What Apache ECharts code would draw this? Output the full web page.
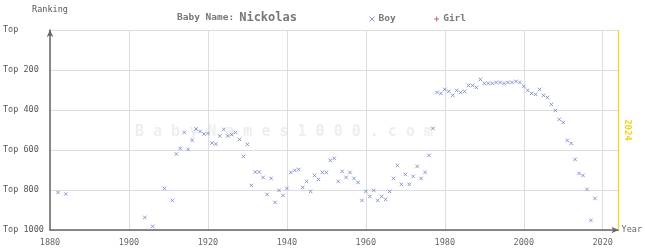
<!DOCTYPE html>
<html><head><meta charset="utf-8">
<script src="https://cdn.jsdelivr.net/npm/echarts@6/dist/echarts.min.js"></script>
<style>html,body{margin:0;padding:0;background:#fff}#c{width:645px;height:250px}</style>
</head><body><div id="c"></div>
<script>
const boyYears = [1882,1884,1904,1906,1909,1911,1912,1913,1914,1915,1916,1917,1918,1919,1920,1921,1922,1923,1924,1925,1926,1927,1928,1929,1930,1931,1932,1933,1934,1935,1936,1937,1938,1939,1940,1941,1942,1943,1944,1945,1946,1947,1948,1949,1950,1951,1952,1953,1954,1955,1956,1957,1958,1959,1960,1961,1962,1963,1964,1965,1966,1967,1968,1969,1970,1971,1972,1973,1974,1975,1976,1977,1978,1979,1980,1981,1982,1983,1984,1985,1986,1987,1988,1989,1990,1991,1992,1993,1994,1995,1996,1997,1998,1999,2000,2001,2002,2003,2004,2005,2006,2007,2008,2009,2010,2011,2012,2013,2014,2015,2016,2017,2018];
const boyRanks = [812,820,937,982,792,852,620,592,512,597,552,495,507,520,517,565,570,530,497,530,523,512,547,632,572,777,710,710,737,822,742,862,802,827,792,712,702,697,787,757,807,727,747,712,712,652,642,757,707,737,712,742,762,852,807,832,802,852,832,847,807,742,677,772,722,772,732,682,742,712,627,492,312,317,297,307,327,302,312,307,277,277,287,247,267,267,267,262,262,267,262,262,257,262,282,302,317,322,297,327,337,372,402,447,462,552,567,647,717,727,797,952,842];
const girlYears = [];
const girlRanks = [];
const yTicks = [0,200,400,600,800,1000];
const xTicks = [1880,1900,1920,1940,1960,1980,2000,2020];
const currentYear = 2024;
const titleLead = 'Baby Name:';
const babyName = 'Nickolas';
const watermark = 'B a b y N a m e s 1 0 0 0 . c o m';

const mono = '"DejaVu Sans Mono", "Liberation Mono", monospace';
const xPath = 'path://M0,0L10,10M10,0L0,10';
const plusPath = 'path://M5,0L5,10M0,5L10,5';

const chart = echarts.init(document.getElementById('c'), null, {renderer: 'canvas'});
chart.setOption({
  animation: false,
  backgroundColor: '#ffffff',
  title: {
    text: '{a|' + titleLead + '} {b|' + babyName + '}',
    left: 172, top: 4,
    textStyle: {
      rich: {
        a: {fontFamily: mono, fontSize: 9.5, fontWeight: 'bold', color: '#777'},
        b: {fontFamily: mono, fontSize: 12, color: '#777'}
      }
    }
  },
  legend: {
    left: 362, top: 9,
    itemWidth: 5, itemHeight: 5, itemGap: 36,
    textStyle: {fontFamily: mono, fontSize: 9.5, fontWeight: 'bold', color: '#777', padding: [0,0,0,-1]},
    data: [
      {name: 'Boy', icon: xPath, itemStyle: {color: 'none', borderColor: '#7080c8', borderWidth: 1}},
      {name: 'Girl', icon: plusPath, itemStyle: {color: 'none', borderColor: '#c0406a', borderWidth: 1}}
    ]
  },
  grid: {left: 47, right: 22, top: 30, bottom: 20, containLabel: false},
  xAxis: {
    type: 'value', min: 1880, max: currentYear, interval: 20, position: 'bottom',
    name: 'Year', nameLocation: 'end', nameGap: 3,
    nameTextStyle: {fontFamily: mono, fontSize: 8.5, color: '#666', align: 'left', verticalAlign: 'middle'},
    axisLine: {onZero: false, lineStyle: {color: '#666', width: 1.5}, symbol: ['none', 'arrow'], symbolSize: [5, 7]},
    axisTick: {show: false},
    axisLabel: {fontFamily: mono, fontSize: 8.5, color: '#666', margin: 8, showMaxLabel: false,
      formatter: v => xTicks.includes(v) ? String(v) : ''},
    splitLine: {show: true, lineStyle: {color: '#dddddd', width: 1}}
  },
  yAxis: {
    type: 'value', inverse: true, min: 0, max: 1000, interval: 200,
    name: 'Ranking', nameLocation: 'start', nameGap: 16,
    nameTextStyle: {fontFamily: mono, fontSize: 8.5, color: '#555'},
    axisLine: {show: true, onZero: false, lineStyle: {color: '#666', width: 1.5}, symbol: ['none', 'arrow'], symbolSize: [5, 7]},
    axisTick: {show: false},
    axisLabel: {fontFamily: mono, fontSize: 8.5, color: '#555', align: 'left', margin: 47,
      formatter: v => yTicks.includes(v) ? (v === 0 ? 'Top' : 'Top ' + v) : ''},
    splitLine: {show: true, lineStyle: {color: '#dddddd', width: 1}}
  },
  graphic: [{
    type: 'text', z: 0, silent: true, x: 284, y: 132,
    style: {text: watermark, fontFamily: mono, fontSize: 15, fontWeight: 'bold', fill: '#eeeeee',
      textAlign: 'center', textVerticalAlign: 'middle'}
  }],
  series: [
    {
      name: 'Boy', type: 'scatter', z: 3,
      symbol: xPath, symbolSize: 3.5,
      itemStyle: {color: 'none', borderColor: '#7080c8', borderWidth: 1},
      data: boyYears.map((y, i) => [y, boyRanks[i]]),
      markLine: {
        silent: true, symbol: ['none', 'none'],
        lineStyle: {color: '#f2d21b', width: 1.2, type: 'solid'},
        label: {show: true, formatter: String(currentYear), position: 'insideMiddleTop',
          color: '#f2d21b', fontFamily: mono, fontSize: 9, fontWeight: 'bold', distance: 4},
        data: [{xAxis: currentYear}]
      }
    },
    {
      name: 'Girl', type: 'scatter',
      symbol: plusPath, symbolSize: 4,
      itemStyle: {color: 'none', borderColor: '#c0406a', borderWidth: 1},
      data: girlYears.map((y, i) => [y, girlRanks[i]])
    }
  ]
});
</script></body></html>
